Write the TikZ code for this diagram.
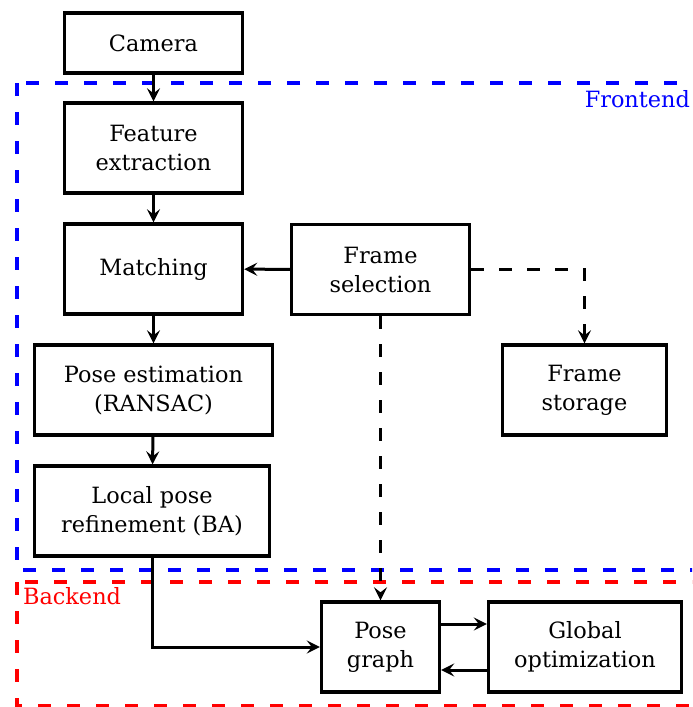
\documentclass[tikz,border=0pt]{standalone}
\usepackage{fontspec}
\setmainfont{DejaVu Serif}
\usetikzlibrary{positioning, arrows.meta}
\tikzset{>={Stealth[length=6.5pt, width=6.5pt, inset=2.5pt]},
  block/.style={draw, line width=1.7pt, align=center, minimum width=89pt, minimum height=45pt, inner sep=2pt},
  link/.style={->, line width=1.5pt},
  dashlink/.style={link, dash pattern=on 6.5pt off 7.5pt},
  region/.style={line width=1.7pt, dash pattern=on 6.5pt off 8pt}}

\begin{document}
\begin{tikzpicture}[x=0.5pt, y=-0.5pt, font=\fontsize{11.2pt}{14.5pt}\selectfont]
\clip (0,0) rectangle (692,707);
% frontend / backend regions
\draw[region, blue] (17,83) rectangle (730,570);
\draw[region, red] (17,582) rectangle (730,706);
\node[blue, anchor=base east] (front) at (697,107) {Frontend};
\node[red, anchor=base west] (back) at (16,604) {Backend};

\node[block, minimum height=30pt] (cam) at (153.5,43) {Camera};
\node[block] (feat) at (153.5,148) {Feature\\extraction};
\node[block] (match) at (153.5,269) {Matching};
\node[block] (sel) at (380.5,269.5) {Frame\\selection};
\node[block, minimum width=119pt] (pose) at (153.5,390) {Pose estimation\\(RANSAC)};
\node[block, minimum width=82pt] (store) at (584.5,390) {Frame\\storage};
\node[block, minimum width=117.5pt] (refine) at (152,511) {Local pose\\refinement (BA)};
\node[block, minimum width=59pt] (graph) at (380.5,647) {Pose\\graph};
\node[block, minimum width=96.5pt] (glob) at (585,647) {Global\\optimization};

\draw[link] (cam) -- (feat);
\draw[link] (feat) -- (match);
\draw[link] (match) -- (pose);
\draw[link] (pose) -- (refine);
\draw[link] (sel) -- (match);
\draw[dashlink] (sel.east) -| (store.north);
\draw[dashlink] (sel.south) -- (graph.north);
\draw[link] (refine.south) |- (graph.west);
\draw[link] ([yshift=11.5pt]graph.east) -- ([yshift=11.5pt]glob.west);
\draw[link] ([yshift=-11.5pt]glob.west) -- ([yshift=-11.5pt]graph.east);
\end{tikzpicture}
\end{document}
